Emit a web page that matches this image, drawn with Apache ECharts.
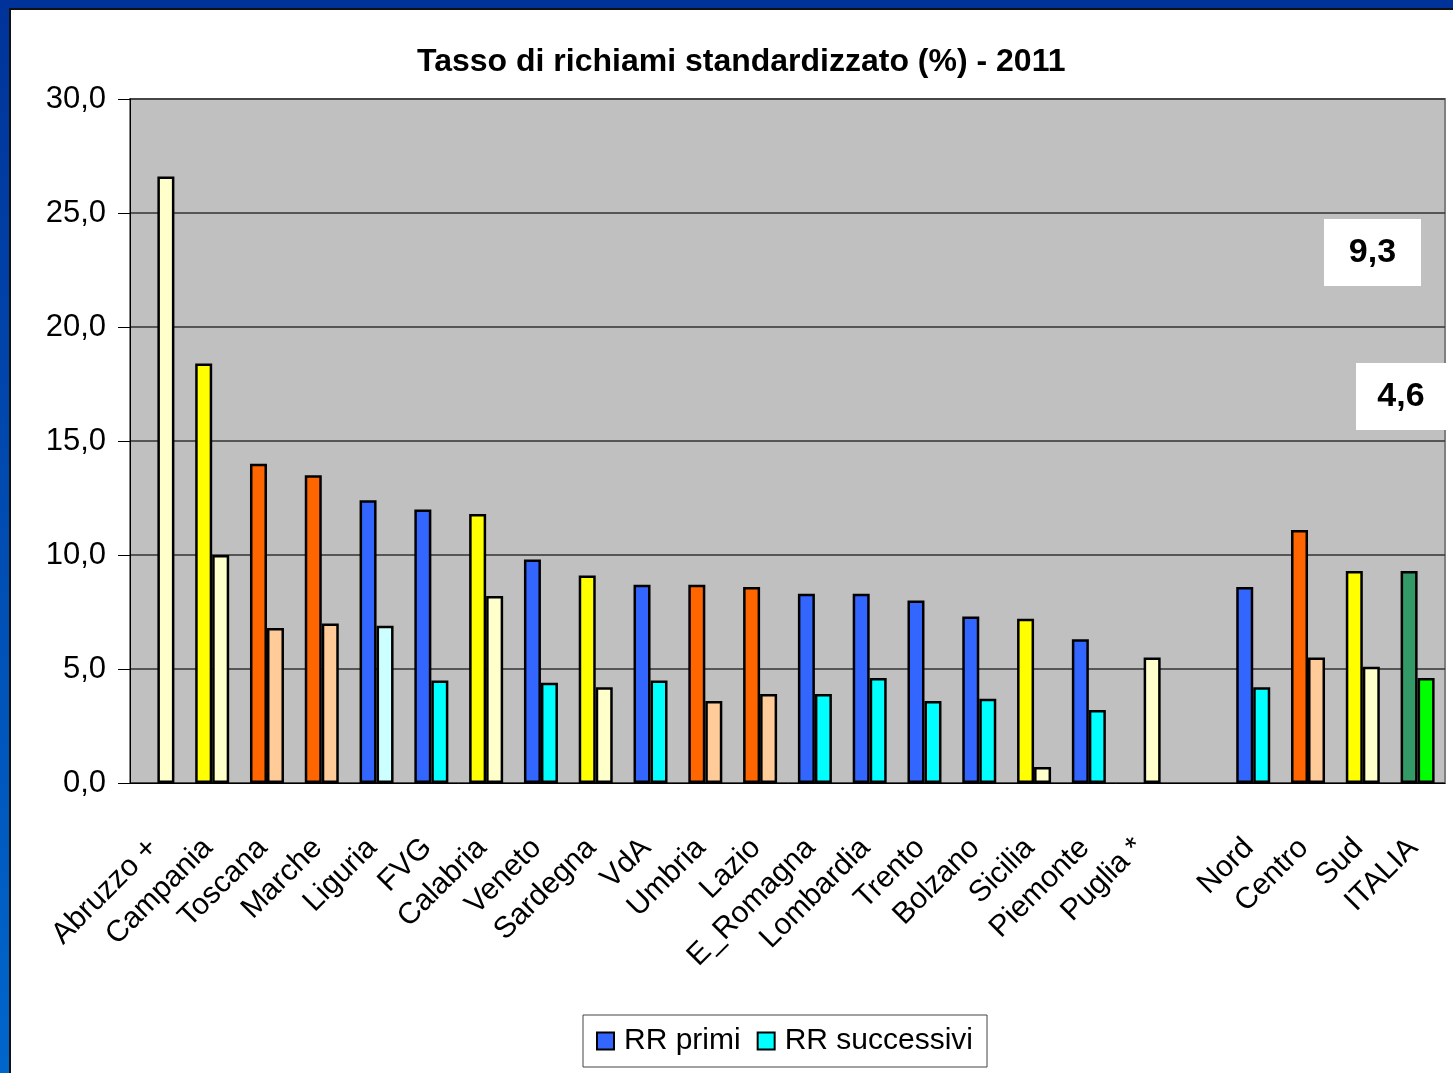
<!DOCTYPE html>
<html>
<head>
<meta charset="utf-8">
<script src="https://cdn.jsdelivr.net/npm/echarts@6/dist/echarts.min.js"></script>
<style>
  html, body { margin: 0; padding: 0; background: #fff; }
  #main { position: absolute; left: 0; top: 0; width: 1453px; height: 1073px; }
  .frame { position: absolute; pointer-events: none; }
</style>
</head>
<body>
<div id="main"></div>
<div class="frame" style="left:0;top:0;width:1453px;height:8px;background:#003399"></div>
<div class="frame" style="left:0;top:0;width:9px;height:1073px;background:linear-gradient(#003399,#0066cc)"></div>
<div class="frame" style="left:9px;top:8px;width:1444px;height:2px;background:#111"></div>
<div class="frame" style="left:9px;top:8px;width:2px;height:1065px;background:#111"></div>
<script>
// dati
const categories = ["Abruzzo +", "Campania", "Toscana", "Marche", "Liguria", "FVG", "Calabria", "Veneto", "Sardegna", "VdA",
  "Umbria", "Lazio", "E_Romagna", "Lombardia", "Trento", "Bolzano", "Sicilia", "Piemonte", "Puglia *", "",
  "Nord", "Centro", "Sud", "ITALIA"]
const rrPrimi = [null, 18.4, 14.0, 13.5, 12.4, 12.0, 11.8, 9.8, 9.1, 8.7,
  8.7, 8.6, 8.3, 8.3, 8.0, 7.3, 7.2, 6.3, null, null,
  8.6, 11.1, 9.3, 9.3]
const rrSuccessivi = [26.6, 10.0, 6.8, 7.0, 6.9, 4.5, 8.2, 4.4, 4.2, 4.5,
  3.6, 3.9, 3.9, 4.6, 3.6, 3.7, 0.7, 3.2, 5.5, null,
  4.2, 5.5, 5.1, 4.6]
const yTicks = [0, 5, 10, 15, 20, 25, 30]

// colori per area (N = nord, C = centro, S = sud, I = Italia)
const zone = ["S", "S", "C", "C", "N", "N", "S", "N", "S", "N",
  "C", "C", "N", "N", "N", "N", "S", "N", "S", "",
  "N", "C", "S", "I"]
const palette = {
  N: ["#3366FF", "#00FFFF"],
  C: ["#FF6600", "#FFCC99"],
  S: ["#FFFF00", "#FFFFCC"],
  I: ["#339966", "#00FF00"],
  "": ["#000", "#000"]
}

const fmt = (v) => v.toFixed(1).replace(".", ",")
const font = "Liberation Sans, Arial, sans-serif"

const buildData = (values, idx) =>
  values.map((v, i) => {
    if (v === null) return "-"
    let color = palette[zone[i]][idx]
    if (idx === 1 && categories[i] === "Liguria") color = "#CCFFFF"
    return { value: v, itemStyle: { color } }
  })

const italiaIdx = categories.indexOf("ITALIA")

const annotation = (x, y, w, h, text) => ({
  type: "group",
  x,
  y,
  children: [
    { type: "rect", shape: { x: 0, y: 0, width: w, height: h }, style: { fill: "#fff" } },
    {
      type: "text",
      x: w / 2,
      y: h / 2,
      style: { text, fontSize: 34, fontWeight: "bold", fontFamily: font, fill: "#000", align: "center", verticalAlign: "middle" }
    }
  ]
})

const chart = echarts.init(document.getElementById("main"))
chart.setOption({
  animation: false,
  textStyle: { fontFamily: font },
  title: {
    text: "Tasso di richiami standardizzato (%) - 2011",
    left: 412,
    top: 41,
    textStyle: { fontSize: 32, fontWeight: "bold", color: "#000", fontFamily: font }
  },
  legend: {
    data: ["RR primi", "RR successivi"],
    left: 583,
    top: 1015,
    icon: "rect",
    itemWidth: 17,
    itemHeight: 17,
    itemGap: 16,
    padding: [11, 14, 11, 13],
    borderColor: "#444",
    borderWidth: 1,
    backgroundColor: "#fff",
    textStyle: { fontSize: 30, color: "#000", fontFamily: font, padding: [0, 0, 0, 5] }
  },
  grid: {
    left: 130,
    right: 8,
    top: 99,
    bottom: 290,
    show: true,
    backgroundColor: "#C0C0C0",
    borderColor: "#808080",
    borderWidth: 2,
    outerBoundsMode: "none"
  },
  xAxis: {
    type: "category",
    data: categories,
    axisLine: { lineStyle: { color: "#000", width: 1 } },
    axisTick: { interval: 0, length: 8, lineStyle: { color: "#000" } },
    axisLabel: { interval: 0, rotate: 45, margin: 56, fontSize: 30, color: "#000", fontFamily: font, padding: [0, 6, 0, 0] }
  },
  yAxis: {
    type: "value",
    min: yTicks[0],
    max: yTicks[yTicks.length - 1],
    interval: 5,
    axisLine: { show: true, lineStyle: { color: "#000", width: 1 } },
    axisTick: { show: true, length: 12, lineStyle: { color: "#000" } },
    axisLabel: { formatter: fmt, margin: 24, fontSize: 31, color: "#000", fontFamily: font },
    splitLine: { lineStyle: { color: "#333", width: 1.5 } }
  },
  series: [
    {
      name: "RR primi",
      type: "bar",
      data: buildData(rrPrimi, 0),
      barWidth: 17,
      barGap: "0%",
      itemStyle: { color: "#3366FF", borderColor: "#000", borderWidth: 2.5 }
    },
    {
      name: "RR successivi",
      type: "bar",
      data: buildData(rrSuccessivi, 1),
      barWidth: 17,
      itemStyle: { color: "#00FFFF", borderColor: "#000", borderWidth: 2.5 }
    }
  ],
  graphic: [
    annotation(1324, 219, 97, 67, fmt(rrPrimi[italiaIdx])),
    annotation(1356, 363, 90, 67, fmt(rrSuccessivi[italiaIdx]))
  ]
})
</script>
</body>
</html>
